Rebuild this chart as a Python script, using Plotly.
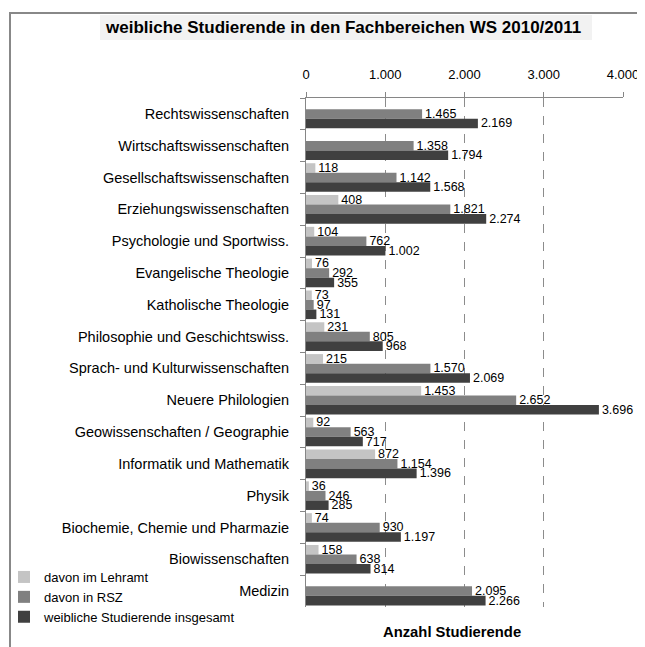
import plotly.graph_objects as go

categories = [
    "Rechtswissenschaften",
    "Wirtschaftswissenschaften",
    "Gesellschaftswissenschaften",
    "Erziehungswissenschaften",
    "Psychologie und Sportwiss.",
    "Evangelische Theologie",
    "Katholische Theologie",
    "Philosophie und Geschichtswiss.",
    "Sprach- und Kulturwissenschaften",
    "Neuere Philologien",
    "Geowissenschaften / Geographie",
    "Informatik und Mathematik",
    "Physik",
    "Biochemie, Chemie und Pharmazie",
    "Biowissenschaften",
    "Medizin",
]
lehramt = [None, None, 118, 408, 104, 76, 73, 231, 215, 1453, 92, 872, 36, 74, 158, None]
rsz = [1465, 1358, 1142, 1821, 762, 292, 97, 805, 1570, 2652, 563, 1154, 246, 930, 638, 2095]
insgesamt = [2169, 1794, 1568, 2274, 1002, 355, 131, 968, 2069, 3696, 717, 1396, 285, 1197, 814, 2266]
series_names = ["davon im Lehramt", "davon in RSZ", "weibliche Studierende insgesamt"]
tick_vals = [0, 1000, 2000, 3000, 4000]
tick_text = ["0", "1.000", "2.000", "3.000", "4.000"]

colors = ["#c4c4c4", "#808080", "#404040"]
FONT = "Liberation Sans, Arial, sans-serif"


def fmt(v):
    return "" if v is None else f"{v:,}".replace(",", ".")


fig = go.Figure()
for name, vals, col in zip(series_names, [lehramt, rsz, insgesamt], colors):
    fig.add_trace(go.Bar(
        y=categories, x=vals, name=name, orientation="h",
        marker=dict(color=col, line=dict(width=0)),
        text=[fmt(v) for v in vals], textposition="outside",
        textfont=dict(size=12.5, color="#000000", family=FONT),
        constraintext="none", cliponaxis=False,
    ))

# page offset (body margin) of the html page
OFF = 8
PAGE_W, PAGE_H = 645, 647
W, H = PAGE_W - OFF, PAGE_H - OFF
# plot area in page pixels
PL, PR, PT, PB = 306, 623, 98, 607
L, R, T, B = PL - OFF, PAGE_W - PR, PT - OFF, PAGE_H - PB
pw, ph = PR - PL, PB - PT


def px_x(p):
    return (p - PL) / pw


def px_y(p):
    return (PB - p) / ph


fig.update_layout(
    width=W, height=H,
    margin=dict(l=L, r=R, t=T, b=B, autoexpand=False),
    paper_bgcolor="white", plot_bgcolor="white",
    barmode="group", bargap=0.1, bargroupgap=0,
    font=dict(family=FONT, size=12, color="#000000"),
    showlegend=True,
    legend=dict(
        xref="paper", yref="paper", x=px_x(4), y=px_y(562),
        xanchor="left", yanchor="top", traceorder="normal",
        font=dict(size=13, family=FONT, color="#000000"),
        bgcolor="rgba(0,0,0,0)", itemwidth=30,
    ),
    xaxis=dict(
        side="top", range=[0, 4000], tickvals=tick_vals, ticktext=tick_text,
        showgrid=True, gridcolor="#8c8c8c", griddash="dash", gridwidth=1,
        zeroline=False, showline=True, linecolor="#868686", linewidth=1,
        ticks="outside", ticklen=5, tickcolor="#868686",
        tickfont=dict(size=13, family=FONT, color="#000000"),
        ticklabelstandoff=8, automargin=False,
    ),
    yaxis=dict(
        autorange="reversed", showline=True, linecolor="#868686", linewidth=1,
        ticks="outside", ticklen=5, tickcolor="#868686", tickson="boundaries",
        showgrid=False, zeroline=False,
        tickfont=dict(size=14.5, family=FONT, color="#000000"),
        ticklabelstandoff=13, automargin=False,
    ),
    shapes=[
        dict(type="rect", xref="paper", yref="paper",
             x0=px_x(10), x1=px_x(660), y0=px_y(660), y1=px_y(13),
             line=dict(color="#888888", width=2), fillcolor="rgba(0,0,0,0)", layer="below"),
        dict(type="rect", xref="paper", yref="paper",
             x0=px_x(100), x1=px_x(592), y0=px_y(40), y1=px_y(15),
             line=dict(width=0), fillcolor="#f2f2f2", layer="below"),
    ],
    annotations=[
        dict(text="<b>weibliche Studierende in den Fachbereichen WS 2010/2011</b>",
             xref="paper", yref="paper", x=px_x(343), y=px_y(27.5),
             xanchor="center", yanchor="middle", showarrow=False,
             font=dict(size=17, family=FONT, color="#000000")),
        dict(text="<b>Anzahl Studierende</b>",
             xref="paper", yref="paper", x=px_x(452), y=px_y(632),
             xanchor="center", yanchor="middle", showarrow=False,
             font=dict(size=14.8, family=FONT, color="#000000")),
    ],
)

fig.write_html("out.html")
